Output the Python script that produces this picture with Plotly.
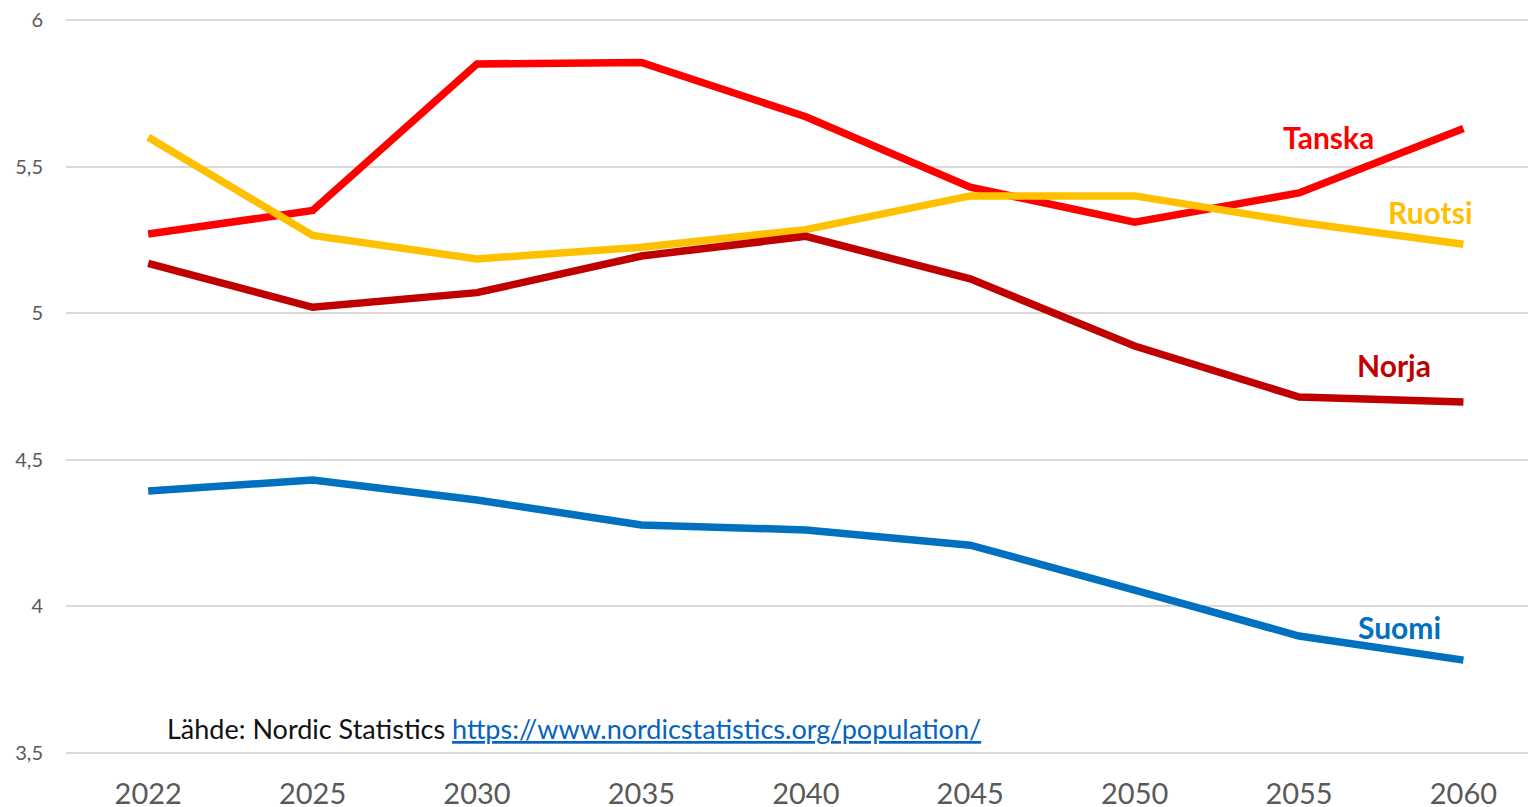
import plotly.graph_objects as go

years = ["2022", "2025", "2030", "2035", "2040", "2045", "2050", "2055", "2060"]

tanska = [5.27, 5.35, 5.85, 5.855, 5.67, 5.43, 5.31, 5.41, 5.63]
ruotsi = [5.60, 5.265, 5.185, 5.225, 5.285, 5.40, 5.40, 5.31, 5.235]
norja = [5.17, 5.02, 5.07, 5.195, 5.262, 5.117, 4.888, 4.714, 4.697]
suomi = [4.394, 4.431, 4.363, 4.278, 4.261, 4.209, 4.056, 3.899, 3.817]

series = [
    ("Tanska", tanska, "#FF0000"),
    ("Ruotsi", ruotsi, "#FFC000"),
    ("Norja", norja, "#C00000"),
    ("Suomi", suomi, "#0070C0"),
]

# label positions (x as category index, y in data units)
label_pos = {
    "Tanska": (7.18, 5.60),
    "Ruotsi": (7.80, 5.345),
    "Norja": (7.58, 4.823),
    "Suomi": (7.61, 3.93),
}

FONT = "Lato, Open Sans, sans-serif"

fig = go.Figure()
for name, vals, color in series:
    fig.add_trace(
        go.Scatter(
            x=years,
            y=vals,
            mode="lines",
            name=name,
            line=dict(color=color, width=7.5),
        )
    )
    lx, ly = label_pos[name]
    fig.add_annotation(
        x=lx, y=ly, xref="x", yref="y",
        text="<b>" + name + "</b>",
        showarrow=False,
        font=dict(family=FONT, size=30, color=color),
    )

# source note (paper coords of the plot area)
fig.add_annotation(
    x=(165 - 66) / 1478, y=(755.9 - 728) / 738.8,
    xref="paper", yref="paper",
    text="Lähde: Nordic Statistics "
         "<span style='color:#0563C1'><u>https://www.nordicstatistics.org/population/</u></span>",
    showarrow=False,
    xanchor="left", yanchor="middle",
    font=dict(family=FONT, size=27, color="#111111"),
)

# page body has an 8px margin, so offsets are reduced accordingly
fig.update_layout(
    width=1536,
    height=807,
    margin=dict(l=58, r=0, t=9, b=59),
    paper_bgcolor="white",
    plot_bgcolor="white",
    showlegend=False,
    separators=", ",
    font=dict(family=FONT),
)
fig.update_xaxes(
    type="category",
    range=[-0.5, 8.49],
    automargin=False,
    showgrid=False,
    showline=False,
    zeroline=False,
    ticks="",
    tickfont=dict(size=29, color="#595959"),
    ticklabelstandoff=18,
)
fig.update_yaxes(
    range=[3.49, 6.01],
    tickvals=[3.5, 4, 4.5, 5, 5.5, 6],
    tickformat=".1~f",
    automargin=False,
    ticklabeloverflow="allow",
    showgrid=True,
    gridcolor="#D9D9D9",
    gridwidth=2,
    zeroline=False,
    showline=False,
    ticks="",
    tickfont=dict(size=20, color="#595959"),
    ticklabelstandoff=22,
)

fig.write_html("out.html")
